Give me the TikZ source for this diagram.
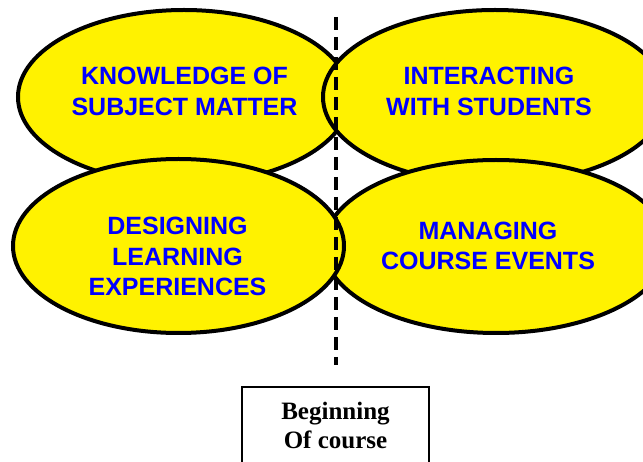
\documentclass[tikz,border=0pt]{standalone}
\usepackage{fontspec}
\setmainfont{Liberation Serif}
\newfontfamily\sansbf{Liberation Sans}
\usetikzlibrary{shapes.geometric}
\begin{document}
\begin{tikzpicture}[x=1pt,y=-1pt,
  area/.style={ellipse,draw,line width=4pt,fill=yellow,inner sep=0pt,minimum height=174pt},
  lbl/.style={text=blue,align=center,inner sep=0pt,font=\sansbf\bfseries\fontsize{25}{31}\selectfont}]
\clip(0,0)rectangle(643,462);
\node (know) at (184,97)[area,minimum width=332pt]{};
\node (inter) at (495,97)[area,minimum width=344pt]{};
\node (manage) at (496,246.5)[area,minimum width=344pt,minimum height=173pt]{};
\node (design) at (178.5,246)[area,minimum width=331pt]{};
\node (knowtxt) at (184.5,91)[lbl]{KNOWLEDGE OF\\SUBJECT MATTER};
\node (intertxt) at (489,91)[lbl]{INTERACTING\\WITH STUDENTS};
\node (designtxt) at (177.5,256.5)[lbl,font=\sansbf\bfseries\fontsize{25}{30.5}\selectfont]{DESIGNING\\LEARNING\\EXPERIENCES};
\node (managetxt) at (488,246)[lbl,font=\sansbf\bfseries\fontsize{25}{30}\selectfont]{MANAGING\\COURSE EVENTS};
\coordinate (divtop) at (336,17);
\coordinate (divbot) at (336,365);
\draw[line width=3.5pt,dash pattern=on 13pt off 7pt](divtop)--(divbot);
\node (start) at (335.5,425.5)[draw,line width=2.5pt,minimum width=187pt,minimum height=77pt,align=center,
  font=\bfseries\fontsize{25}{29}\selectfont]{Beginning\\Of course};
\end{tikzpicture}
\end{document}
